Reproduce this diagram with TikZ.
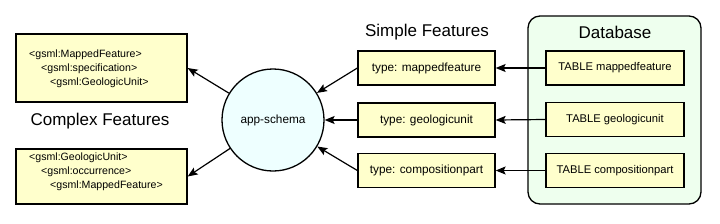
\documentclass[tikz,border=0pt]{standalone}
\usepackage{fontspec}
\setmainfont{Liberation Sans}
\usetikzlibrary{arrows.meta}
\definecolor{boxy}{HTML}{FFFFCC}
\definecolor{circ}{HTML}{EEFFFF}
\definecolor{dbg}{HTML}{EEFFEE}
\begin{document}
\begin{tikzpicture}[x=1pt,y=-1pt,
  fbox/.style={draw=black, line width=1.3pt, fill=boxy, rectangle, inner sep=0pt, font=\fontsize{11.2}{13}\selectfont},
  gtext/.style={inner sep=0pt, align=left, font=\fontsize{10.6}{14}\selectfont},
  arr/.style={-{Stealth[length=10pt,width=8pt,inset=2pt]}, line width=1.2pt},
  title/.style={font=\fontsize{17}{19}\selectfont, inner sep=0pt}]
\useasboundingbox (0,0) rectangle (720,223);
% database
\node[draw=black, line width=1.3pt, fill=dbg, rounded corners=12pt, minimum width=173pt, minimum height=188pt] (db) at (614.5,110) {};
\node[title] (dbt) at (615,32) {Database};
\node[fbox, minimum width=138pt, minimum height=34pt] (t1) at (615,68) {TABLE mappedfeature};
\node[fbox, minimum width=138pt, minimum height=34pt] (t2) at (615,119.5) {TABLE geologicunit};
\node[fbox, minimum width=138pt, minimum height=34pt] (t3) at (615,170.5) {TABLE compositionpart};
% simple features
\node[title] (sft) at (427,32) {Simple Features};
\node[fbox, minimum width=137pt, minimum height=34pt, font=\fontsize{11.8}{13}\selectfont] (s1) at (426.5,68) {type: mappedfeature};
\node[fbox, minimum width=137pt, minimum height=34pt, font=\fontsize{11.8}{13}\selectfont] (s2) at (426.5,120) {type: geologicunit};
\node[fbox, minimum width=137pt, minimum height=34pt, font=\fontsize{11.8}{13}\selectfont] (s3) at (426.5,170.5) {type: compositionpart};
% app-schema
\node[circle, draw=black, line width=1.3pt, fill=circ, minimum size=102pt, inner sep=0pt, font=\fontsize{11.8}{14}\selectfont] (app) at (273,120) {app-schema};
% complex features
\node[title] (cft) at (100,121) {Complex Features};
\node[fbox, minimum width=171pt, minimum height=68pt] (c1) at (101.5,68) {};
\node[gtext, anchor=west] (c1t) at (29,69) {<gsml:MappedFeature>\\\hspace*{12pt}<gsml:specification>\\\hspace*{21pt}<gsml:GeologicUnit>};
\node[fbox, minimum width=171pt, minimum height=55pt] (c2) at (101.5,176.5) {};
\node[gtext, anchor=west] (c2t) at (29,172) {<gsml:GeologicUnit>\\\hspace*{12pt}<gsml:occurrence>\\\hspace*{21pt}<gsml:MappedFeature>};
% connectors
\draw[arr] (t1.west) -- (s1.east);
\draw[arr] (t2.west) -- (s2.east);
\draw[arr] (t3.west) -- (s3.east);
\draw[arr] (s1.west) -- (app);
\draw[arr] (s2.west) -- (app);
\draw[arr] (s3.west) -- (app);
\draw[arr] (app) -- (c1.east);
\draw[arr] (app) -- (c2.east);
\end{tikzpicture}
\end{document}
